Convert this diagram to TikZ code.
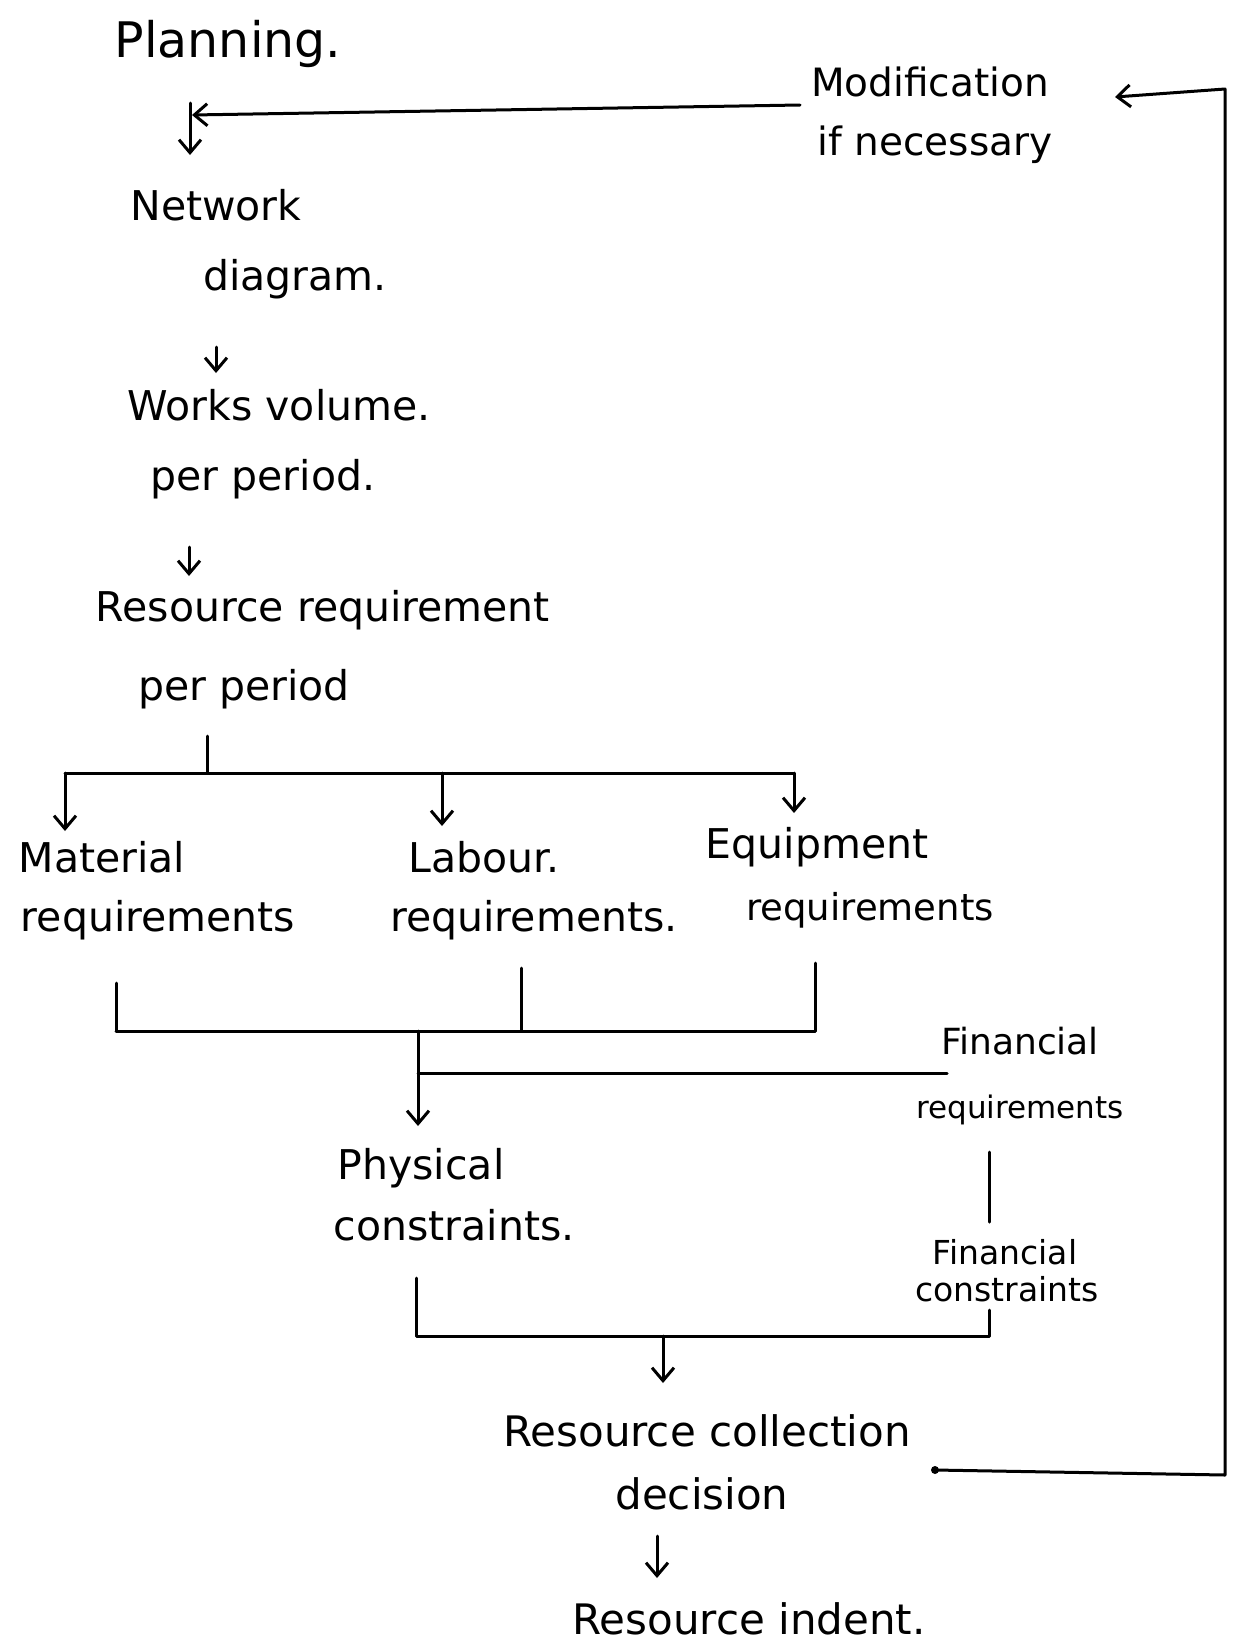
\documentclass[tikz,border=0pt]{standalone}
\usepackage{fontspec}
\setmainfont{DejaVu Sans}
\usetikzlibrary{arrows.meta}
\begin{document}
\begin{tikzpicture}[x=1pt,y=-1pt,line width=3pt,line cap=round,line join=round,
  txt/.style={font=\fontsize{41}{48}\selectfont,inner sep=0pt,anchor=center},
  smalltxt/.style={font=\fontsize{33}{40}\selectfont,inner sep=0pt,anchor=center},
  arr/.style={-{Straight Barb[length=13pt,width=22pt,line width=3pt]}}]
\fill[white] (0,0) rectangle (1239,1649);
\useasboundingbox (0,0) rectangle (1239,1649);
% texts
\node[txt,font=\fontsize{49}{56}\selectfont] (plan) at (228,44) {Planning.};
\node[txt,font=\fontsize{39}{46}\selectfont] (mod1) at (930,82) {Modification};
\node[txt,font=\fontsize{39}{46}\selectfont] (mod2) at (935,145) {if necessary};
\node[txt] (net1) at (216,205) {Network};
\node[txt] (net2) at (295,279) {diagram.};
\node[txt] (wv1) at (279,405) {Works volume.};
\node[txt] (wv2) at (263,479) {per period.};
\node[txt] (rr1) at (323,610) {Resource requirement};
\node[txt] (rr2) at (244,689) {per period};
\node[txt] (mat1) at (102,857) {Material};
\node[txt] (mat2) at (158,920) {requirements};
\node[txt] (lab1) at (484,857) {Labour.};
\node[txt] (lab2) at (534,920) {requirements.};
\node[txt] (eq1) at (817,847) {Equipment};
\node[txt,font=\fontsize{37}{44}\selectfont] (eq2) at (870,910) {requirements};
\node[smalltxt,font=\fontsize{36}{42}\selectfont] (fr1) at (1020,1041) {Financial};
\node[smalltxt,font=\fontsize{31}{38}\selectfont] (fr2) at (1020,1110) {requirements};
\node[txt] (ph1) at (421,1168) {Physical};
\node[txt] (ph2) at (454,1225) {constraints.};
\node[smalltxt] (fc1) at (1005,1252) {Financial};
\node[smalltxt] (fc2) at (1007,1289) {constraints};
\node[txt,font=\fontsize{42}{48}\selectfont] (rc1) at (707,1431) {Resource collection};
\node[txt,font=\fontsize{42}{48}\selectfont] (rc2) at (702,1494) {decision};
\node[txt,font=\fontsize{42}{48}\selectfont] (ri) at (749,1619) {Resource indent.};
% coordinates
\coordinate (pA) at (190,103);
\coordinate (pB) at (190,155);
\coordinate (fbR) at (800,105);
\coordinate (fbL) at (192,115);
\coordinate (nA) at (216,347);
\coordinate (nB) at (216,373);
\coordinate (wA) at (189,547);
\coordinate (wB) at (189,576);
\coordinate (rA) at (207,736);
\coordinate (rB) at (207,773);
\coordinate (barL) at (65,773);
\coordinate (barM) at (442,773);
\coordinate (barR) at (794,773);
\coordinate (matT) at (65,831);
\coordinate (labT) at (442,826);
\coordinate (eqT) at (794,813);
\coordinate (matB) at (116,983);
\coordinate (labB) at (521,968);
\coordinate (eqB) at (815,963);
\coordinate (jL) at (116,1031);
\coordinate (jM) at (521,1031);
\coordinate (jR) at (815,1031);
\coordinate (jD) at (418,1031);
\coordinate (jF) at (418,1073);
\coordinate (phT) at (418,1126);
\coordinate (finL) at (947,1073);
\coordinate (frB) at (989,1152);
\coordinate (fcT) at (989,1222);
\coordinate (phB) at (416,1278);
\coordinate (kL) at (416,1336);
\coordinate (kM) at (663,1336);
\coordinate (kR) at (989,1336);
\coordinate (fcB) at (989,1310);
\coordinate (rcT) at (663,1383);
\coordinate (rcB) at (657,1536);
\coordinate (riT) at (657,1578);
\coordinate (lpS) at (935,1470);
\coordinate (lpC) at (1225,1475);
\coordinate (lpT) at (1225,89);
\coordinate (lpE) at (1115,97);
% connectors
\draw[arr] (pA) -- (pB);
\draw[arr] (fbR) -- (fbL);
\draw[arr] (lpS) -- (lpC) -- (lpT) -- (lpE);
\fill (lpS) circle (4pt);
\draw[arr] (nA) -- (nB);
\draw[arr] (wA) -- (wB);
\draw (rA) -- (rB);
\draw (barL) -- (barR);
\draw[arr] (barL) -- (matT);
\draw[arr] (barM) -- (labT);
\draw[arr] (barR) -- (eqT);
\draw (matB) -- (jL);
\draw (labB) -- (jM);
\draw (eqB) -- (jR);
\draw (jL) -- (jR);
\draw[arr] (jD) -- (phT);
\draw (finL) -- (jF);
\draw (frB) -- (fcT);
\draw (phB) -- (kL) -- (kR) -- (fcB);
\draw[arr] (kM) -- (rcT);
\draw[arr] (rcB) -- (riT);
\end{tikzpicture}
\end{document}
